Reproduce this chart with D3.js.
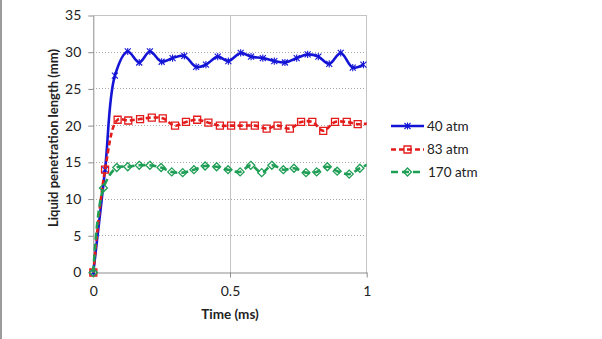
<!DOCTYPE html>
<html>
<head>
<meta charset="utf-8">
<script src="https://cdn.jsdelivr.net/npm/d3@7"></script>
<style>
  html, body { margin: 0; padding: 0; background: #fff; }
  svg { display: block; }
  text { font-family: Lato, "Open Sans", sans-serif; fill: #222; }
</style>
</head>
<body>
<svg id="chart" width="602" height="339"></svg>
<script>
// Liquid penetration length (mm) against time (ms) at three ambient pressures
const time40 = [0, 0.043, 0.079, 0.126, 0.168, 0.207, 0.250, 0.290, 0.333, 0.376, 0.412, 0.455, 0.494,
                0.539, 0.577, 0.620, 0.662, 0.701, 0.744, 0.784, 0.823, 0.863, 0.905, 0.949, 0.988];
const len40  = [0, 14.0, 26.8, 30.1, 28.6, 30.1, 28.7, 29.2, 29.5, 28.0, 28.3, 29.4, 28.8,
                29.9, 29.4, 29.2, 28.8, 28.6, 29.2, 29.7, 29.4, 28.4, 29.9, 27.9, 28.3];

const time83 = [0, 0.043, 0.089, 0.128, 0.171, 0.214, 0.254, 0.299, 0.339, 0.380, 0.421, 0.463, 0.504,
                0.549, 0.591, 0.634, 0.674, 0.719, 0.760, 0.801, 0.841, 0.884, 0.927, 0.967, 1.008];
const len83  = [0, 14.0, 20.8, 20.7, 20.9, 21.1, 21.0, 20.0, 20.5, 20.8, 20.4, 20.0, 20.0,
                20.0, 20.0, 19.6, 20.0, 19.6, 20.5, 20.5, 19.3, 20.5, 20.5, 20.2, 20.3];

const time170 = [0, 0.037, 0.086, 0.126, 0.168, 0.207, 0.248, 0.287, 0.327, 0.368, 0.409, 0.451, 0.493,
                 0.537, 0.576, 0.616, 0.653, 0.695, 0.734, 0.778, 0.817, 0.856, 0.892, 0.936, 0.975, 1.010];
const len170  = [0, 11.5, 14.3, 14.4, 14.6, 14.6, 14.3, 13.7, 13.6, 14.0, 14.5, 14.4, 14.0,
                 13.7, 14.6, 13.6, 14.6, 14.0, 14.2, 13.6, 13.7, 14.4, 13.8, 13.4, 14.2, 14.8];

const seriesNames = ["40 atm", "83 atm", "170 atm"];
const yTicks = [0, 5, 10, 15, 20, 25, 30, 35];
const xTicks = [0, 0.5, 1];

const svg = d3.select("#chart");
const W = 602, H = 339;
svg.append("rect").attr("width", W).attr("height", H).attr("fill", "#fff");
// thin frame line on the left edge
svg.append("line").attr("x1", 1).attr("x2", 1).attr("y1", 0).attr("y2", H)
  .attr("stroke", "#7a7a7a").attr("stroke-width", 1.5);

const x = d3.scaleLinear().domain([0, 1]).range([93.3, 366.7]);
const y = d3.scaleLinear().domain([0, 35]).range([272.5, 15.5]);

// gridlines
const grid = svg.append("g");
grid.selectAll("line.h").data(yTicks.filter(d => d > 0)).join("line")
  .attr("x1", x(0)).attr("x2", x(1))
  .attr("y1", d => y(d)).attr("y2", d => y(d))
  .attr("stroke", d => d === 35 ? "#c4c4c4" : "#a8a8a8")
  .attr("stroke-width", 1)
  .attr("stroke-dasharray", d => d === 35 ? null : "1,2")
  .attr("shape-rendering", "crispEdges");
grid.selectAll("line.v").data(xTicks.filter(d => d > 0)).join("line")
  .attr("x1", d => x(d)).attr("x2", d => x(d))
  .attr("y1", y(35)).attr("y2", y(0))
  .attr("stroke", "#c4c4c4").attr("stroke-width", 1)
  .attr("shape-rendering", "crispEdges");

// axes
const yAxis = svg.append("g").attr("transform", `translate(${x(0)},0)`)
  .call(d3.axisLeft(y).tickValues(yTicks).tickSize(5).tickPadding(7).tickSizeOuter(0));
const xAxis = svg.append("g").attr("transform", `translate(0,${y(0)})`)
  .call(d3.axisBottom(x).tickValues(xTicks).tickFormat(d3.format("")).tickSize(5).tickPadding(9).tickSizeOuter(0));
[yAxis, xAxis].forEach(a => {
  a.select(".domain").attr("stroke", "#8c8c8c");
  a.selectAll(".tick line").attr("stroke", "#8c8c8c");
  a.selectAll("text").style("font-family", "Lato, 'Open Sans', sans-serif")
    .style("font-size", "14px").attr("fill", "#222");
});

// axis titles
svg.append("text").attr("x", 230).attr("y", 319).attr("text-anchor", "middle")
  .style("font-size", "13.5px").style("font-weight", "bold").text("Time (ms)");
svg.append("text").attr("transform", "translate(58,138) rotate(-90)").attr("text-anchor", "middle")
  .style("font-size", "13px").style("font-weight", "bold").text("Liquid penetration length (mm)");

// lines are clipped at the right end of the time axis
svg.append("clipPath").attr("id", "plotClip").append("rect")
  .attr("x", x(0) - 6).attr("y", 0).attr("width", x(1) - x(0) + 6).attr("height", y(0) + 6);

const series = [
  { name: seriesNames[0], t: time40, v: len40, color: "#1414d6", dash: null, marker: "star" },
  { name: seriesNames[1], t: time83, v: len83, color: "#e31b1b", dash: "5,3", marker: "square" },
  { name: seriesNames[2], t: time170, v: len170, color: "#1f9e55", dash: "7,4", marker: "diamond" }
];

const line = d3.line().x(d => x(d[0])).y(d => y(d[1])).curve(d3.curveCatmullRom.alpha(0.5));

const markerPath = {
  star: "M-3,-3L3,3M-3,3L3,-3M0,-3.6L0,3.6",
  square: "M-3.5,-3.5H3.5V3.5H-3.5Z",
  diamond: "M0,-4L4,0L0,4L-4,0Z"
};

function drawMarker(g, kind, color) {
  g.append("path").attr("d", markerPath[kind])
    .attr("fill", "none").attr("stroke", color)
    .attr("stroke-width", kind === "star" ? 1.1 : 1.3);
}

series.forEach(s => {
  const pts = s.t.map((t, i) => [t, s.v[i]]);
  const g = svg.append("g");
  g.append("path").datum(pts).attr("d", line)
    .attr("clip-path", "url(#plotClip)")
    .attr("fill", "none").attr("stroke", s.color).attr("stroke-width", 2.6)
    .attr("stroke-dasharray", s.dash).attr("stroke-linejoin", "round");
  pts.filter(p => p[0] <= 1).forEach(p => {
    drawMarker(g.append("g").attr("transform", `translate(${x(p[0])},${y(p[1])})`), s.marker, s.color);
  });
});

// legend
const legend = svg.append("g");
const legendY = [126, 149.5, 172];
series.forEach((s, i) => {
  const ly = legendY[i];
  legend.append("line").attr("x1", 391).attr("x2", 424).attr("y1", ly).attr("y2", ly)
    .attr("stroke", s.color).attr("stroke-width", 2.6).attr("stroke-dasharray", s.dash);
  drawMarker(legend.append("g").attr("transform", `translate(407.5,${ly})`), s.marker, s.color);
  legend.append("text").attr("x", i === 2 ? 428 : 427).attr("y", ly + 4.5)
    .style("font-size", "13.5px").text(s.name);
});
</script>
</body>
</html>
